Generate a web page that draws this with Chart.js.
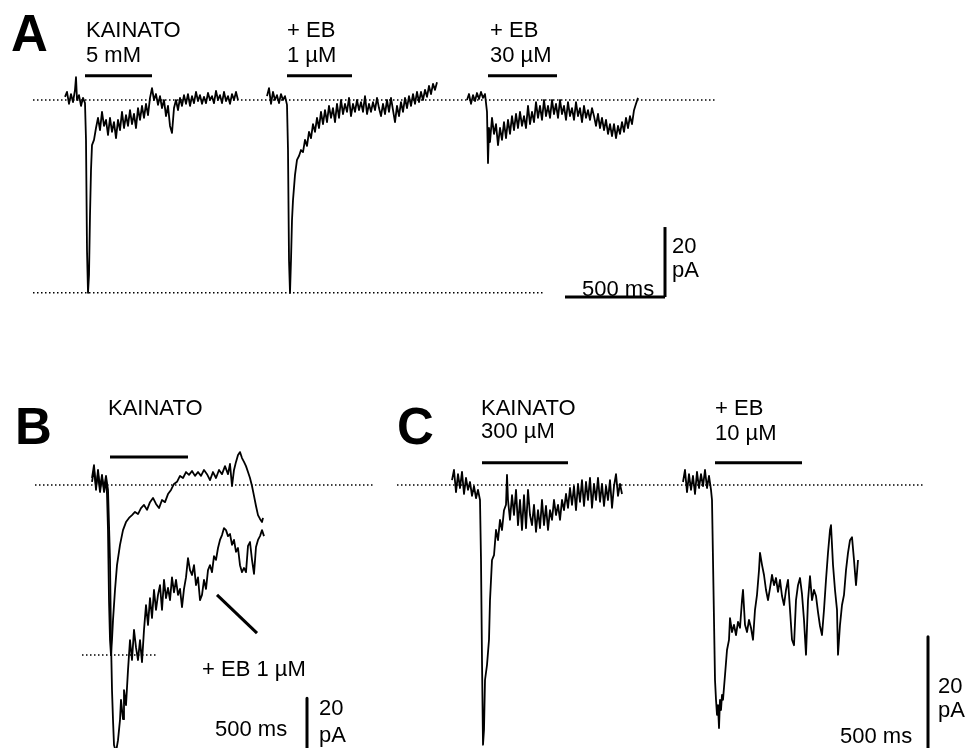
<!DOCTYPE html>
<html>
<head>
<meta charset="utf-8">
<script src="https://cdn.jsdelivr.net/npm/chart.js@4"></script>
<style>
  html, body { margin: 0; padding: 0; background: #fff; }
  #wrap { position: relative; width: 970px; height: 748px; overflow: hidden; }
  #chart { position: absolute; left: 0; top: 0; }
  .lbl { position: absolute; font-family: 'Liberation Sans', Arial, Helvetica, sans-serif;
         font-size: 22px; line-height: 22px; color: #000; white-space: pre; }
  .big { font-size: 51px; line-height: 51px; font-weight: bold; }
</style>
</head>
<body>
<div id="wrap">
  <canvas id="chart" width="970" height="748"></canvas>

  <div class="lbl big" style="left:11px;top:8px">A</div>
  <div class="lbl" style="left:86px;top:19px">KAINATO</div>
  <div class="lbl" style="left:86px;top:44px">5 mM</div>
  <div class="lbl" style="left:287px;top:19px">+ EB</div>
  <div class="lbl" style="left:287px;top:44px">1 µM</div>
  <div class="lbl" style="left:490px;top:19px">+ EB</div>
  <div class="lbl" style="left:490px;top:44px">30 µM</div>
  <div class="lbl" style="left:582px;top:278px">500 ms</div>
  <div class="lbl" style="left:672px;top:235px">20</div>
  <div class="lbl" style="left:672px;top:259px">pA</div>

  <div class="lbl big" style="left:15px;top:401px">B</div>
  <div class="lbl" style="left:108px;top:397px">KAINATO</div>
  <div class="lbl" style="left:202px;top:658px">+ EB 1 µM</div>
  <div class="lbl" style="left:215px;top:718px">500 ms</div>
  <div class="lbl" style="left:319px;top:697px">20</div>
  <div class="lbl" style="left:319px;top:724px">pA</div>

  <div class="lbl big" style="left:397px;top:401px">C</div>
  <div class="lbl" style="left:481px;top:397px">KAINATO</div>
  <div class="lbl" style="left:481px;top:420px">300 µM</div>
  <div class="lbl" style="left:715px;top:397px">+ EB</div>
  <div class="lbl" style="left:715px;top:422px">10 µM</div>
  <div class="lbl" style="left:938px;top:675px">20</div>
  <div class="lbl" style="left:938px;top:699px">pA</div>
  <div class="lbl" style="left:840px;top:725px">500 ms</div>
</div>

<script>
// traces: [time from sweep start (ms), current (pA)]
const a1Kainato5mM = [
  [0,0.9],[10,2.3],[20,-1.1],[30,1.7],[40,-0.6],[50,2.9],[55,6.5],[60,0],[70,1.4],[80,-1.7],[90,0.6],[100,-0.9],
  [105,-11.4],[110,-42.9],[115,-55.1],[120,-50],[125,-32.9],[130,-20],[135,-12.9],[145,-11.4],[155,-8],
  [165,-5.1],[175,-8.6],[185,-3.4],[195,-7.4],[205,-5.7],[215,-10],[225,-5.1],[235,-9.1],[245,-6.3],
  [255,-10.9],[265,-5.7],[275,-8.6],[285,-3.4],[295,-8],[305,-4.3],[315,-7.4],[325,-2.9],[335,-6.9],
  [345,-4],[355,-8],[365,-2.3],[375,-5.7],[385,-1.7],[395,-5.1],[405,-1.1],[415,-4.3],[425,0.6],
  [435,3.4],[445,0],[455,1.7],[465,-1.4],[475,1.1],[485,-2.3],[495,0],[505,-4.6],[515,-1.7],[525,-7.4],
  [535,-9.4],[545,-2.3],[555,0],[565,-2.9],[575,0.6],[585,-1.7],[595,1.4],[605,-1.1],[615,1.7],
  [625,-1.7],[635,1.1],[645,-0.9],[655,2.3],[665,-0.3],[675,1.4],[685,-1.1],[695,0.9],[705,-0.9],
  [715,2],[725,0],[735,1.1],[745,-0.9],[755,2.6],[765,0],[775,1.4],[785,-0.9],[795,2.3],[805,-0.3],
  [815,1.1],[825,-1.1],[835,1.7],[845,0],[855,2.3],[865,0]
];
const a2Eb1uM = [
  [0,1.1],[10,3.4],[20,-1.1],[30,2.3],[40,0],[50,1.4],[60,-0.9],[70,1.7],[80,0],[90,1.1],[100,-1.4],
  [105,-14.3],[110,-45.7],[115,-55.1],[120,-45.7],[125,-34.3],[130,-28.6],[140,-21.4],[150,-17.1],
  [160,-16],[170,-14.3],[180,-14.9],[190,-11.4],[200,-13.1],[210,-9.1],[220,-10.9],[230,-6.9],
  [240,-9.1],[250,-5.1],[260,-8],[270,-3.4],[280,-6.9],[290,-2.9],[300,-6.3],[310,-1.7],[320,-5.1],
  [330,-2.3],[340,-6.3],[350,-1.1],[360,-5.1],[370,0],[380,-4],[390,-1.1],[400,-3.4],[410,0.6],
  [420,-4.6],[430,-1.1],[440,-3.4],[450,0],[460,-2.9],[470,-0.6],[480,-3.4],[490,1.1],[500,-4],
  [510,-1.1],[520,-3.4],[530,-0.6],[540,-2.9],[550,0.6],[560,-2.3],[570,-4.6],[580,-1.1],[590,-4],
  [600,0],[610,-3.4],[620,0.6],[630,-2.9],[640,-6.3],[650,-1.7],[660,-4.6],[670,-0.6],[680,-3.4],
  [690,0.6],[700,-2.3],[710,1.1],[720,-1.7],[730,1.7],[740,-1.1],[750,2.3],[760,-0.6],[770,2.3],
  [780,0],[790,2.9],[800,0.9],[810,4],[820,1.7],[830,4.6],[840,2.9],[850,5.1]
];
const a3Eb30uM = [
  [0,0],[10,1.7],[20,-1.1],[30,1.4],[40,-0.3],[50,2],[60,0.3],[70,2.3],[80,0.6],[90,1.7],[100,-3.4],
  [105,-18],[110,-8],[115,-12],[125,-5.1],[135,-9.7],[145,-6.9],[155,-12.9],[165,-8],[175,-11.4],
  [185,-6.3],[195,-10.9],[205,-5.7],[215,-9.7],[225,-4.6],[235,-8.6],[245,-4],[255,-8],[265,-3.4],
  [275,-7.4],[285,-4.6],[295,-8],[305,-1.7],[315,-6.9],[325,-3.4],[335,-6.3],[345,-0.6],[355,-5.1],
  [365,-1.7],[375,-5.7],[385,0],[395,-4.6],[405,-1.7],[415,-5.1],[425,0],[435,-4],[445,-1.1],
  [455,-5.1],[465,0],[475,-4],[485,-1.7],[495,-5.7],[505,-0.6],[515,-4.6],[525,-2.3],[535,-5.7],
  [545,-0.6],[555,-4.6],[565,-2.3],[575,-6.3],[585,-1.7],[595,-5.1],[605,-2.9],[615,-5.7],[625,-2.3],
  [635,-4.6],[645,-7.4],[655,-4],[665,-8],[675,-5.1],[685,-8.6],[695,-5.7],[705,-9.7],[715,-6.9],
  [725,-10.3],[735,-6.9],[745,-10.9],[755,-7.4],[765,-9.7],[775,-6.3],[785,-9.1],[795,-5.1],
  [805,-8],[815,-4.6],[825,-6.9],[835,-2.9],[845,-1.1],[855,0.6]
];
const bKainato = [
  [0,2],[10,5.7],[20,-1.4],[30,4.3],[40,-0.9],[50,2.9],[60,-2],[70,1.4],[75,-2.6],[80,-12.9],
  [85,-32.9],[90,-44.3],[95,-48.6],[100,-44.3],[105,-38.6],[115,-30],[125,-22.9],[140,-17.1],
  [155,-12.9],[170,-10.6],[185,-9.4],[200,-8.6],[215,-7.7],[230,-8.3],[245,-6.6],[260,-5.7],
  [275,-7.1],[290,-4.9],[305,-3.7],[320,-5.4],[335,-6.6],[350,-4.3],[365,-4.9],[380,-2.6],
  [395,-1.4],[410,0.3],[425,0.9],[440,2.6],[455,2],[470,3.7],[485,2.9],[500,4],[515,2.6],[530,3.7],
  [545,2.6],[560,4.3],[575,3.1],[590,1.4],[605,3.7],[620,2],[635,4.3],[650,3.1],[665,5.4],[680,3.1],
  [690,6],[700,-0.3],[710,4.3],[720,6.6],[730,8.6],[740,9.4],[750,7.7],[760,6.6],[770,5.4],
  [780,3.7],[790,2],[800,-0.3],[810,-3.1],[820,-6],[830,-8.6],[840,-9.7],[850,-10.6],[855,-9.4]
];
const bEb1uM = [
  [0,0.9],[10,4.3],[20,-0.3],[30,3.1],[40,-2],[50,2],[60,-0.9],[70,2.6],[80,-1.4],[90,-21.4],
  [95,-44.3],[100,-58.6],[105,-67.1],[110,-74.3],[120,-76.3],[130,-72.9],[140,-67.1],[145,-61.4],
  [155,-66.9],[160,-58.6],[170,-62.9],[180,-52.9],[190,-44.3],[200,-50],[210,-41.4],[220,-46.4],
  [230,-50],[240,-44.3],[250,-50.6],[260,-41.4],[270,-34.3],[280,-40],[290,-32.3],[300,-38],
  [310,-30],[320,-35.7],[330,-31.4],[340,-28.6],[350,-35.7],[360,-27.1],[370,-32.3],[380,-29.4],
  [390,-32.9],[400,-26.4],[410,-30.7],[420,-27.1],[430,-31.4],[440,-29.7],[450,-34.9],[460,-29.7],
  [470,-26.4],[480,-20.9],[490,-24.3],[500,-25.7],[510,-22.9],[520,-28.6],[530,-26.4],[540,-32.9],
  [550,-31.4],[560,-27.1],[570,-29.7],[580,-24.3],[590,-22.9],[600,-24.9],[610,-20.3],[620,-21.4],
  [630,-18],[640,-15.7],[650,-14.3],[660,-12.3],[670,-12.9],[680,-14.6],[690,-14],[700,-17.1],
  [710,-15.7],[720,-19.1],[730,-18],[740,-22.9],[750,-24.9],[760,-23.7],[770,-24.9],[780,-17.4],
  [790,-16.3],[800,-21.4],[810,-25.4],[820,-17.7],[830,-15.7],[840,-14.6],[850,-12.9],[860,-14.6]
];
const cKainato300uM = [
  [0,0.8],[10,2.5],[20,-1.2],[30,1.8],[40,-0.5],[50,2.2],[60,-1.5],[70,1.2],[80,-0.8],[90,0.5],
  [100,-1.8],[110,-0.2],[120,-2.2],[130,-0.8],[140,-2.5],[145,-12.5],[150,-29.2],[155,-43.3],
  [160,-40.8],[165,-32.5],[175,-30],[185,-25.8],[190,-19.2],[200,-12.5],[210,-11.7],[220,-7.5],
  [230,-9.2],[240,-5.8],[250,-7.5],[260,-4.2],[270,-3.3],[275,1.7],[280,-2.5],[290,-5.8],[300,-1.7],
  [310,-5],[320,-0.8],[330,-6.7],[340,-2.5],[350,-7.5],[360,-1.7],[370,-7.2],[380,-0.8],[390,-5],
  [400,-6.7],[410,-3.3],[420,-7.8],[430,-4.2],[440,-7.2],[450,-2.5],[460,-6.7],[470,-3.5],[480,-7.5],
  [490,-4.2],[500,-5.8],[510,-2.5],[520,-5],[530,-3.3],[540,-5.8],[550,-2.5],[560,-4.2],[570,-1.5],
  [580,-3.8],[590,-0.5],[600,-3.3],[610,-0.2],[620,-4.2],[630,0.2],[640,-2.8],[650,0.8],[660,-3.5],
  [670,0.5],[680,-2.5],[690,1.2],[700,-3.8],[710,0.2],[720,-2.5],[730,1.2],[740,-2.8],[750,0.2],
  [760,-3.5],[770,-0.2],[780,-2.5],[790,0.8],[800,-3.8],[810,-0.2],[820,1.8],[830,-1.8],[840,0.2],
  [850,-1.5]
];
const cEb10uM = [
  [0,0.5],[10,2.5],[20,-1.2],[30,1.8],[40,-0.8],[50,1.5],[60,-1.5],[70,2.2],[80,-0.5],[90,1.8],
  [100,-0.2],[110,2.5],[120,-0.5],[130,1.5],[140,-0.8],[145,-2.5],[150,-12.5],[155,-22.5],
  [160,-32.5],[165,-35.8],[170,-38.3],[175,-36.7],[180,-40.5],[185,-35.8],[190,-37.5],[195,-35],
  [200,-35.8],[210,-31.7],[220,-27.5],[230,-25.8],[235,-22.2],[245,-24.5],[255,-23.3],[265,-25],
  [275,-22.8],[285,-23.8],[295,-19.2],[300,-17.5],[310,-23.3],[320,-24.5],[330,-22.5],[340,-23.8],
  [350,-25.8],[360,-20.8],[370,-18.3],[380,-14.2],[385,-11.3],[395,-13.3],[405,-15],[415,-17.5],
  [425,-19.2],[435,-17.2],[445,-15],[455,-16.7],[465,-15.5],[475,-17.8],[485,-15.8],[495,-18.5],
  [505,-20],[515,-17.5],[525,-15.8],[535,-20.8],[545,-25.8],[555,-26.7],[565,-19.2],[575,-16.7],
  [585,-15.5],[595,-18.2],[605,-22.5],[615,-28.3],[625,-19.2],[635,-15.2],[645,-19.2],[655,-17.5],
  [665,-18.5],[675,-21.2],[685,-23.5],[695,-25],[705,-20.8],[715,-15.8],[725,-11.3],[735,-7.5],
  [740,-6.7],[750,-13.3],[760,-17.5],[770,-20.8],[775,-28.3],[785,-23.3],[795,-20],[805,-18.3],
  [815,-14.2],[825,-11.3],[835,-9.2],[845,-8.7],[855,-12.5],[865,-16.7],[875,-12.5]
];

// drug application: [start, end] in ms from sweep start
const drugA = [[100, 435], [100, 425], [105, 450]];
const drugB = [90, 480];
const drugC = [[150, 580], [160, 595]];

// scale bars
const scaleMs = 500;
const scalePa = 20;

// --- layout (pixels) ---
const W = 970, H = 748;
const panel = {
  A: { x0: 65,  y0: 100, msPx: 5, paPx: 1 / 3.5 },
  B: { x0: 92,  y0: 485, msPx: 5, paPx: 1 / 3.5 },
  C: { x0: 452, y0: 485, msPx: 5, paPx: 1 / 6 }
};
const sweepA = [0, 1010, 2010];   // sweep start on the panel time axis
const sweepC = [0, 1155];
const barLevel = { A: 6.9, B: 8, C: 3.7 };

const scales = {};
for (const k in panel) {
  const p = panel[k];
  scales['x' + k] = { type: 'linear', display: false, min: -p.x0 * p.msPx, max: (W - p.x0) * p.msPx };
  scales['y' + k] = { type: 'linear', display: false, min: -(H - p.y0) * p.paPx, max: p.y0 * p.paPx };
}

const pts = (arr, off = 0) => arr.map(([t, i]) => ({ x: t + off, y: i }));
const peak = arr => Math.min(...arr.map(d => d[1]));

function trace(arr, off, k) {
  return { data: pts(arr, off), xAxisID: 'x' + k, yAxisID: 'y' + k, borderWidth: 1.8 };
}
function seg(x1, y1, x2, y2, k, w, dash) {
  return { data: [{ x: x1, y: y1 }, { x: x2, y: y2 }], xAxisID: 'x' + k, yAxisID: 'y' + k,
           borderWidth: w, borderDash: dash || [], borderCapStyle: 'butt' };
}
const dot = [1.5, 2.5];

const datasets = [
  // baselines
  seg(-160, 0, 3250, 0, 'A', 1.5, dot),
  seg(-160, peak(a1Kainato5mM), 2390, peak(a1Kainato5mM), 'A', 1.5, dot),
  seg(-285, 0, 1415, 0, 'B', 1.5, dot),
  seg(-50, peak(bKainato), 330, peak(bKainato), 'B', 1.5, dot),
  seg(-275, 0, 2365, 0, 'C', 1.5, dot),
  // traces
  trace(a1Kainato5mM, sweepA[0], 'A'),
  trace(a2Eb1uM, sweepA[1], 'A'),
  trace(a3Eb30uM, sweepA[2], 'A'),
  trace(bKainato, 0, 'B'),
  trace(bEb1uM, 0, 'B'),
  trace(cKainato300uM, sweepC[0], 'C'),
  trace(cEb10uM, sweepC[1], 'C'),
  // drug bars
  ...drugA.map((d, i) => seg(d[0] + sweepA[i], barLevel.A, d[1] + sweepA[i], barLevel.A, 'A', 3)),
  seg(drugB[0], barLevel.B, drugB[1], barLevel.B, 'B', 3),
  ...drugC.map((d, i) => seg(d[0] + sweepC[i], barLevel.C, d[1] + sweepC[i], barLevel.C, 'C', 3)),
  // pointer to the EB trace
  seg(625, -31.4, 825, -42.3, 'B', 3),
  // scale bars
  seg(3000 - scaleMs, -56.3, 3000, -56.3, 'A', 3),
  seg(3000, -56.3, 3000, -56.3 + scalePa, 'A', 3),
  seg(1075, -60.9, 1075, -60.9 - scalePa, 'B', 3),
  seg(1075 - scaleMs, -60.9 - scalePa, 1075, -60.9 - scalePa, 'B', 3),
  seg(2380, -25.3, 2380, -25.3 - scalePa, 'C', 3),
  seg(2380 - scaleMs, -25.3 - scalePa, 2380, -25.3 - scalePa, 'C', 3)
];

new Chart(document.getElementById('chart'), {
  type: 'line',
  data: { datasets },
  options: {
    responsive: false,
    animation: false,
    events: [],
    layout: { padding: 0 },
    elements: {
      line: { borderColor: '#000', tension: 0, fill: false, borderJoinStyle: 'round' },
      point: { radius: 0 }
    },
    plugins: { legend: { display: false }, tooltip: { enabled: false } },
    scales
  }
});
</script>
</body>
</html>
